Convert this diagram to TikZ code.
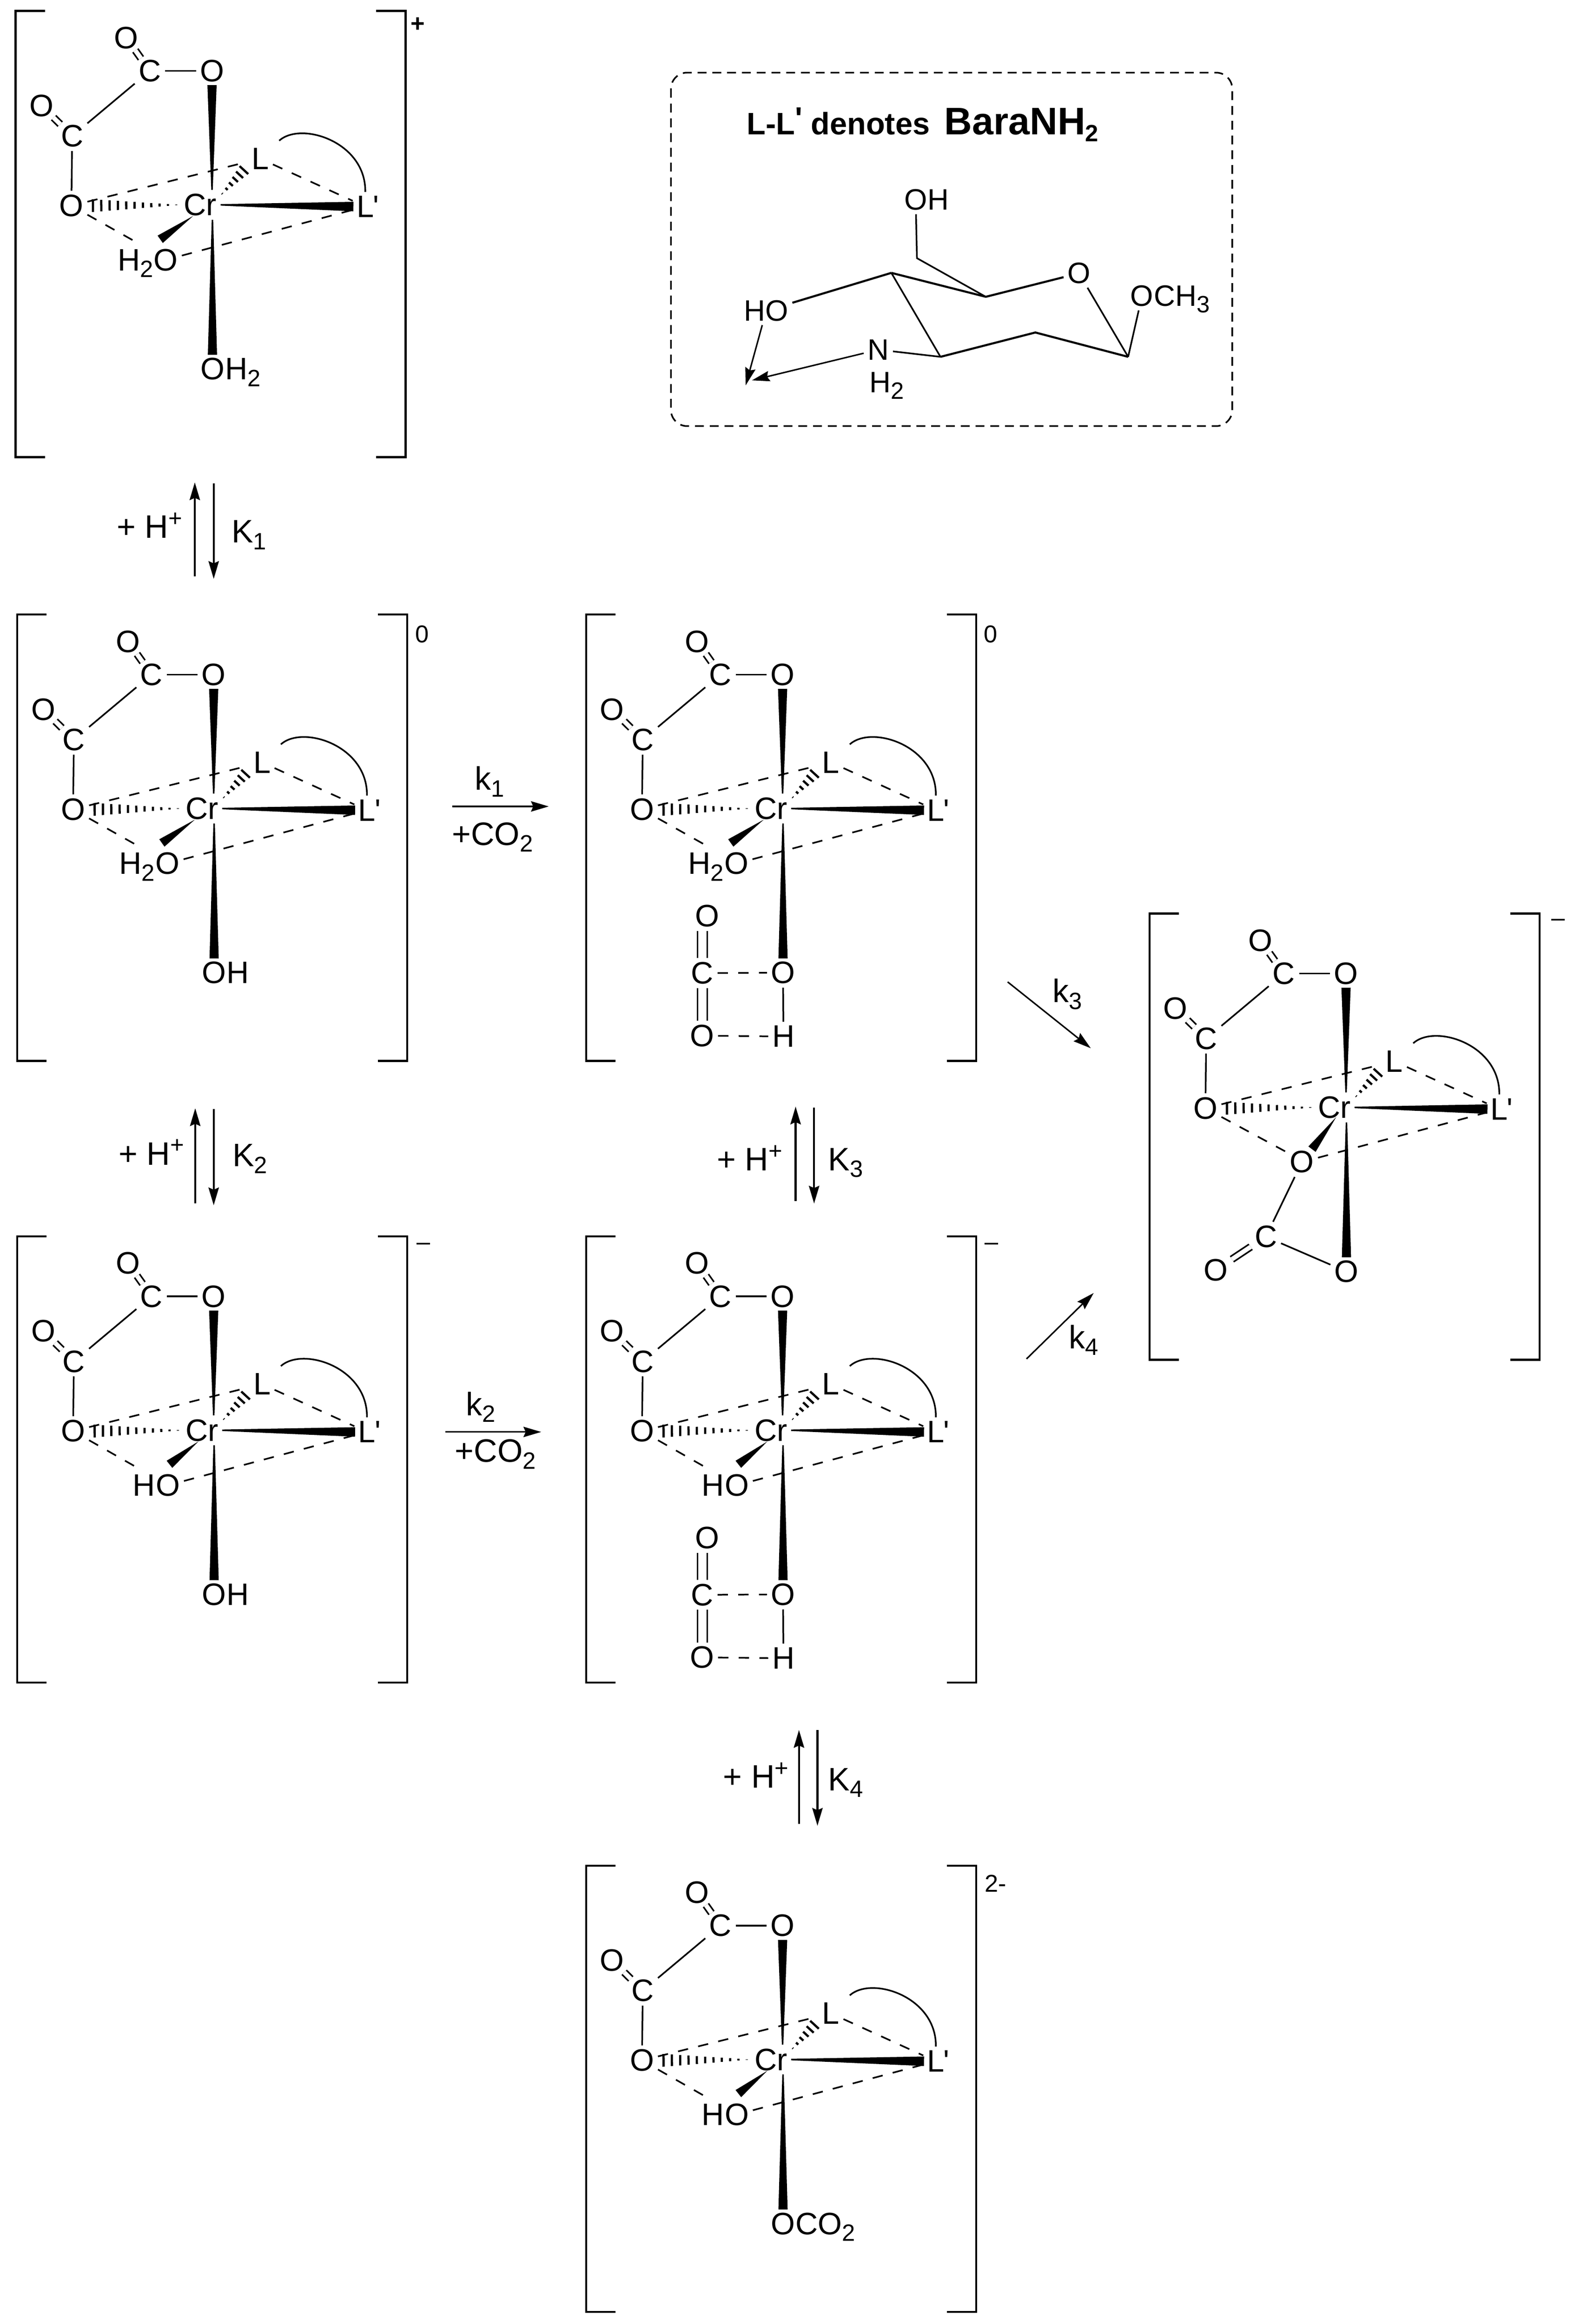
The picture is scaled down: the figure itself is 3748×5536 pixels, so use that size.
\documentclass[tikz,border=0pt]{standalone}
\usepackage{fontspec}
\usetikzlibrary{calc,arrows.meta}
\newfontfamily\chemfont{Liberation Sans}
\newcommand{\atomfont}{\chemfont\fontsize{21}{25}\selectfont}
\newcommand{\ringfont}{\chemfont\fontsize{20}{24}\selectfont}
\newcommand{\labelfont}{\chemfont\fontsize{22}{26}\selectfont}
\newcommand{\subtxt}[1]{\raisebox{-4.5pt}{\fontsize{16}{16}\selectfont #1}}
\newcommand{\suptxt}[1]{\raisebox{8pt}{\fontsize{16}{16}\selectfont #1}}
\newcommand{\wedgebond}[3]{\filldraw[wedgefill] (#1) -- ($(#2)!#3!90:(#1)$) -- ($(#2)!#3!-90:(#1)$) -- cycle;}
\newcommand{\hashbond}[4]{\foreach \hs in {#4}{\draw[hashline] ($(#1)!\hs!(#2)!\hs*#3!90:(#2)$) -- ($(#1)!\hs!(#2)!\hs*#3!-90:(#2)$);}}
\tikzset{
  atom/.style={inner sep=2.5pt,font=\atomfont},
  sideatom/.style={atom,inner sep=0pt},
  ringatom/.style={inner sep=2.5pt,font=\ringfont},
  lbl/.style={anchor=base west,inner sep=0pt,font=\labelfont},
  charge/.style={inner sep=0pt,font=\chemfont\fontsize{16.5}{20}\selectfont},
  bond/.style={line width=1.1pt},
  thickbond/.style={line width=1.4pt,line join=round},
  dashbond/.style={line width=1.1pt,dash pattern=on 7pt off 7pt},
  dblbondb/.style={line width=1.1pt,double,double distance=3pt,shorten >=-1.9pt,shorten <=-1.9pt},
  dblbonda/.style={line width=1.1pt,double,double distance=3pt,shorten >=-3pt,shorten <=-3pt},
  longdbl/.style={line width=1.1pt,double,double distance=5.6pt},
  wedgefill/.style={fill=black,draw=black,line width=1pt,line join=miter},
  hashline/.style={line width=1.5pt},
  brack/.style={line width=1.4pt,line join=miter},
  rxn/.style={line width=1pt,-{Stealth[length=12pt,width=7pt,inset=1.5pt]}},
  eqm/.style={line width=1.3pt,-{Stealth[length=12pt,width=7pt,inset=1.5pt]}},
  pics/crcore/.style n args={6}{code={
    \draw[brack] (-370,-462) -- (-440,-462) -- (-440,601) -- (-370,601);
    \draw[brack] (419,-462) -- (489,-462) -- (489,601) -- (419,601);
    \node[atom] (Cr) at (0,0) {Cr};
    \node[atom] (Otop) at (28,-319) {O};
    \node[atom] (Cb) at (-120,-319) {C};
    \node[atom] (Ob) at (-176,-398) {O};
    \node[atom] (Ca) at (-305,-164) {C};
    \node[atom] (Oa) at (-378,-236) {O};
    \node[atom] (Oeq) at (-307,2) {O};
    \node[atom] (L) at (143,-110) {L};
    \node[atom] (Lp) at (393,4) {L};
    \node[sideatom,anchor=base west,xshift=-3.5pt] (Lprime) at (Lp.base east) {'};
    \node[atom] (Ofr) at #1 {O};
    \node[sideatom,anchor=base east,xshift=2.5pt] (Hfr) at (Ofr.base west) {#2};
    \node[atom] (Oax) at (29,391) {O};
    \node[sideatom,anchor=base west,xshift=-2.5pt] (Rax) at (Oax.base east) {#6};
    \draw[bond] (Cb) -- (Otop);
    \draw[bond] (Ca) -- (Cb);
    \draw[bond] (Ca) -- (Oeq);
    \draw[dblbondb] (Cb) -- (Ob);
    \draw[dblbonda] (Ca) -- (Oa);
    \coordinate (thinup) at (Cr.north -| Otop);
    \coordinate (thindn) at (Cr.south -| Oax);
    \coordinate (frthin) at #3;
    \coordinate (frwide) at #4;
    \coordinate (frdash) at #5;
    \coordinate (arcstart) at ($(L.north east)+(15,-8)$);
    \wedgebond{thinup}{Otop.south}{2.6pt}
    \wedgebond{thindn}{Oax.north}{2.6pt}
    \wedgebond{Cr.east}{Lp.west}{2.7pt}
    \wedgebond{frthin}{frwide}{2.5pt}
    \hashbond{Cr.west}{Oeq.east}{4.6pt}{0.04,0.13,...,1.0}
    \hashbond{Cr.25}{L.210}{4.6pt}{0.06,0.22,...,1.0}
    \draw[dashbond] (Oeq) -- (L);
    \draw[dashbond] (L) -- (Lp);
    \draw[dashbond] (Oeq) -- (frdash);
    \draw[dashbond] (Ofr) -- (Lp);
    \draw[bond] (arcstart) .. controls (240,-200) and (395,-150) .. (Lp.north);
  }},
  pics/bicarb/.style={code={
    \node[atom] (Cc) at (-163,392) {C};
    \node[atom] (Oc) at (-151,256) {O};
    \node[atom] (Od) at (-164,541) {O};
    \node[atom] (Hd) at (30,543) {H};
    \draw[longdbl] (Cc.north) -- (Cc.north |- Oc.south);
    \draw[longdbl] (Cc.south) -- (Cc.south |- Od.north);
    \draw[dashbond] (Cc) -- (Oax);
    \draw[bond] (Oax) -- (Hd);
    \draw[dashbond] (Od) -- (Hd);
  }},
  pics/carbonato/.style={code={
    \node[atom] (Cc) at (-163,308) {C};
    \node[atom] (Oc) at (-282,387) {O};
    \draw[bond] (Ofr) -- (Cc);
    \draw[bond] (Cc) -- (Oax);
    \draw[dblbonda,shorten >=0pt,shorten <=0pt] (Cc) -- (Oc);
  }},
}
\begin{document}
\begin{tikzpicture}[x=0.01cm,y=-0.01cm]
\useasboundingbox (0,0) rectangle (3748,5536);

\pic (a-) at (477,488) {crcore={(-82,131)}{H\subtxt{2}}{(Cr.230)}{(-94,81)}{(-154,88)}{H\subtxt{2}}};
\pic (b-) at (481,1926) {crcore={(-82,131)}{H\subtxt{2}}{(Cr.230)}{(-94,81)}{(-154,88)}{H}};
\pic (c-) at (1836,1926) {crcore={(-82,131)}{H\subtxt{2}}{(Cr.230)}{(-94,81)}{(-154,88)}{}};
\pic (c-) at (1836,1926) {bicarb};
\pic (d-) at (481,3407) {crcore={(-81,131)}{H}{(Cr.241)}{(-76,80)}{(-156,88)}{H}};
\pic (e-) at (1836,3407) {crcore={(-81,131)}{H}{(Cr.241)}{(-76,80)}{(-156,88)}{}};
\pic (e-) at (1836,3407) {bicarb};
\pic (f-) at (1836,4906) {crcore={(-81,131)}{H}{(Cr.241)}{(-76,80)}{(-156,88)}{CO\subtxt{2}}};
\pic (g-) at (3178,2638) {crcore={(-77,130)}{}{(Cr.262)}{(-52,98)}{(-107,110)}{}};
\pic (g-) at (3178,2638) {carbonato};

\node[charge,font=\chemfont\bfseries\fontsize{16.5}{20}\selectfont] (qa) at (995,59) {+};
\node[charge] (qb) at (1005,1511) {0};
\node[charge] (qc) at (2360,1511) {0};
\node[charge] (qd) at (1009,2970) {–};
\node[charge] (qe) at (2362,2969) {–};
\node[charge] (qf) at (2371,4487) {2-};
\node[charge] (qg) at (3711,2198) {–};

\coordinate (K1up) at (464,1149);
\coordinate (K1upb) at (464,1373);
\coordinate (K1dnb) at (509,1151);
\coordinate (K1dn) at (509,1379);
\draw[eqm] (K1upb) -- (K1up);
\draw[eqm] (K1dnb) -- (K1dn);
\node[lbl] (hK1) at (278,1282) {+ H\suptxt{+}};
\node[lbl] (tK1) at (551,1293) {K\subtxt{1}};

\coordinate (K2up) at (465,2640);
\coordinate (K2upb) at (465,2866);
\coordinate (K2dnb) at (509,2642);
\coordinate (K2dn) at (509,2871);
\draw[eqm] (K2upb) -- (K2up);
\draw[eqm] (K2dnb) -- (K2dn);
\node[lbl] (hK2) at (282,2775) {+ H\suptxt{+}};
\node[lbl] (tK2) at (553,2779) {K\subtxt{2}};

\coordinate (K3up) at (1895,2636);
\coordinate (K3upb) at (1895,2861);
\coordinate (K3dnb) at (1939,2638);
\coordinate (K3dn) at (1939,2867);
\draw[eqm] (K3upb) -- (K3up);
\draw[eqm] (K3dnb) -- (K3dn);
\node[lbl] (hK3) at (1707,2789) {+ H\suptxt{+}};
\node[lbl] (tK3) at (1972,2788) {K\subtxt{3}};

\coordinate (K4up) at (1903,4121);
\coordinate (K4upb) at (1903,4345);
\coordinate (K4dnb) at (1947,4121);
\coordinate (K4dn) at (1947,4349);
\draw[eqm] (K4upb) -- (K4up);
\draw[eqm] (K4dnb) -- (K4dn);
\node[lbl] (hK4) at (1722,4259) {+ H\suptxt{+}};
\node[lbl] (tK4) at (1972,4265) {K\subtxt{4}};

\coordinate (k1s) at (1077,1921);
\coordinate (k1e) at (1307,1921);
\draw[rxn] (k1s) -- (k1e);
\node[lbl] (tk1) at (1130,1882) {k\subtxt{1}};
\node[lbl] (co1) at (1076,2013) {+CO\subtxt{2}};

\coordinate (k2s) at (1061,3411);
\coordinate (k2e) at (1289,3411);
\draw[rxn] (k2s) -- (k2e);
\node[lbl] (tk2) at (1109,3372) {k\subtxt{2}};
\node[lbl] (co2) at (1083,3483) {+CO\subtxt{2}};

\coordinate (k3s) at (2400,2339);
\coordinate (k3e) at (2598,2497);
\draw[rxn] (k3s) -- (k3e);
\node[lbl] (tk3) at (2507,2388) {k\subtxt{3}};

\coordinate (k4s) at (2445,3237);
\coordinate (k4e) at (2605,3080);
\draw[rxn] (k4s) -- (k4e);
\node[lbl] (tk4) at (2545,3212) {k\subtxt{4}};

\draw[line width=1.1pt,dash pattern=on 6pt off 4pt,rounded corners=11pt] (1598,173) rectangle (2935,1015);
\node[anchor=base west,inner sep=0pt,font=\chemfont\bfseries\fontsize{21}{25}\selectfont] (ttla) at (1778,321) {L-L\raisebox{4pt}{'} denotes};
\node[anchor=base west,inner sep=0pt,font=\chemfont\bfseries\fontsize{26}{31}\selectfont] (ttlb) at (2249,321) {BaraNH\subtxt{\bfseries 2}};

\coordinate (ca) at (2123,650);
\coordinate (cb) at (2348,707);
\coordinate (cc) at (2687,850);
\coordinate (cd) at (2466,792);
\coordinate (ce) at (2240,850);
\coordinate (cm) at (2184,615);
\coordinate (hotip) at (1776,918);
\coordinate (ntip) at (1791,906);
\node[ringatom] (oring) at (2570,651) {O};
\node[ringatom] (omet) at (2720,705) {O};
\node[ringatom,anchor=base west,inner sep=0pt,xshift=-2.5pt] (cmet) at (omet.base east) {CH\subtxt{3}};
\node[ringatom] (ohy) at (2181,476) {O};
\node[ringatom,anchor=base west,inner sep=0pt,xshift=-2.5pt] (hhy) at (ohy.base east) {H};
\node[ringatom] (hoh) at (1825,740) {HO};
\node[ringatom] (nit) at (2092,833) {N};
\node[ringatom,anchor=base west,inner sep=0pt] (nith) at (2070,935) {H\subtxt{2}};
\draw[thickbond] (ca) -- (cb) -- (oring);
\draw[bond] (oring) -- (cc);
\draw[thickbond] (cc) -- (cd) -- (ce);
\draw[bond] (ce) -- (ca);
\draw[bond] (cb) -- (cm) -- (ohy);
\draw[thickbond] (ca) -- (hoh);
\draw[bond] (cc) -- (omet);
\draw[bond] (nit) -- (ce);
\draw[rxn] (hoh) -- (hotip);
\draw[rxn] (nit) -- (ntip);
\end{tikzpicture}
\end{document}
